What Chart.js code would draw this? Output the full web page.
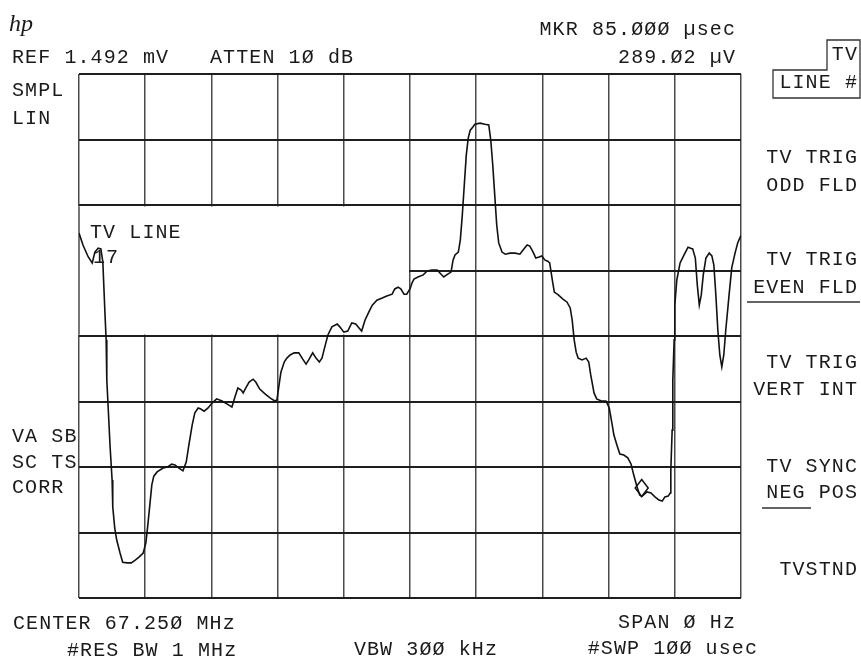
<!DOCTYPE html>
<html>
<head>
<meta charset="utf-8">
<script src="https://cdn.jsdelivr.net/npm/chart.js@4"></script>
<style>
  body { margin: 0; background: #fff; }
  #traceCanvas { display: block; }
</style>
</head>
<body>
<canvas id="traceCanvas" width="861" height="663"></canvas>
<script>
// Sweep time (usec) and level (uV)
const traceTime = [0, 0.6, 1.4, 2.0, 2.4, 2.9, 3.3, 3.6, 3.9, 4.1, 4.2, 4.5, 4.7, 5.0, 5.1, 5.4, 5.7, 6.2, 6.6, 7.3,
  7.9, 8.5, 9.1, 9.7, 10.1, 10.4, 10.7, 11.0, 11.3, 11.8, 12.7, 13.4, 14.0, 14.5, 15.1, 15.7, 16.2, 16.6, 17.1, 17.5,
  18.0, 18.4, 18.9, 19.5, 20.1, 20.8, 21.6, 22.4, 23.1, 23.6, 24.0, 24.5, 24.8, 25.2, 25.7, 26.3, 26.7, 27.3, 28.1, 28.9,
  29.6, 29.9, 30.2, 30.5, 31.0, 31.4, 31.9, 32.5, 33.2, 33.8, 34.3, 34.7, 35.3, 35.8, 36.3, 36.7, 37.2, 37.6, 38.2, 39.0,
  39.4, 40.0, 40.6, 41.2, 41.8, 42.3, 42.7, 43.2, 43.7, 44.3, 45.0, 45.8, 46.5, 47.3, 47.7, 48.2, 48.6, 49.1, 49.5, 50.0,
  50.3, 50.6, 51.2, 52.0, 52.6, 53.3, 54.1, 54.7, 55.1, 55.7, 56.2, 56.5, 56.8, 57.3, 57.6, 57.9, 58.2, 58.5, 58.8, 59.1,
  59.5, 59.8, 60.6, 61.3, 61.9, 62.2, 62.5, 62.8, 63.1, 63.4, 63.9, 64.4, 65.1, 65.9, 66.6, 67.2, 67.7, 68.1, 68.6, 69.0,
  69.5, 69.9, 70.4, 70.8, 71.1, 71.5, 71.8, 72.4, 73.1, 73.7, 74.2, 74.5, 74.8, 75.1, 75.4, 76.0, 76.6, 77.0, 77.3, 77.8,
  78.2, 78.9, 79.6, 80.1, 80.5, 80.8, 81.3, 81.7, 82.3, 82.9, 83.4, 83.8, 84.3, 84.7, 85.0, 85.8, 86.4, 87.0, 87.6, 88.1,
  88.5, 89.0, 89.3, 89.4, 89.6, 89.7, 89.9, 90.0, 90.3, 90.8, 91.4, 92.0, 92.4, 92.7, 93.1, 93.4, 93.7, 94.0, 94.3, 94.7,
  95.2, 95.6, 95.9, 96.2, 96.5, 96.8, 97.1, 97.4, 97.7, 98.2, 98.6, 99.1, 99.5, 100];
const traceLevel = [1039, 1005, 971, 954, 985, 996, 994, 957, 820, 735, 621, 507, 430, 336, 259, 199, 165, 128, 102, 100,
  100, 108, 117, 128, 157, 208, 265, 322, 347, 359, 370, 373, 381, 379, 370, 362, 387, 436, 493, 527,
  541, 538, 532, 541, 555, 567, 561, 552, 544, 575, 598, 592, 584, 598, 615, 623, 615, 595, 581, 569,
  561, 564, 604, 643, 672, 683, 692, 698, 698, 680, 666, 678, 698, 683, 672, 683, 720, 749, 772, 780,
  772, 757, 760, 783, 780, 769, 760, 791, 811, 834, 848, 854, 860, 865, 880, 885, 880, 865, 865, 880,
  897, 908, 914, 920, 931, 934, 934, 922, 914, 922, 928, 962, 977, 985, 1019, 1090, 1176, 1261, 1310, 1332,
  1341, 1349, 1352, 1349, 1347, 1304, 1233, 1147, 1062, 1011, 985, 979, 982, 982, 979, 994, 1005, 1002, 985, 968,
  971, 974, 962, 959, 954, 905, 871, 863, 851, 843, 826, 791, 735, 700, 683, 678, 683, 672, 635, 584,
  567, 561, 561, 541, 498, 464, 433, 410, 407, 399, 381, 350, 316, 293, 289, 302, 299, 288, 279, 276,
  288, 290, 299, 364, 478, 621, 735, 834, 905, 954, 977, 999, 996, 994, 968, 891, 834, 863, 920, 968,
  982, 974, 948, 863, 763, 692, 658, 692, 763, 863, 940, 982, 1011, 1033];

// Marker readout
const markerTime = 85.0;
const markerLevel = 289.02;

// Graticule: 10 x 8 divisions, REF 1.492 mV at top, linear
const xTicks = [0, 10, 20, 30, 40, 50, 60, 70, 80, 90, 100];
const yTicks = [0, 186.5, 373, 559.5, 746, 932.5, 1119, 1305.5, 1492];

const screenFont = '20px "Liberation Mono", "DejaVu Sans Mono", monospace';
const vGridColor = '#4a4a4a';

// Plugin: blank out the graticule behind the TV LINE annotation
const blankBox = {
    id: 'blankBox',
    beforeDatasetsDraw(chart) {
        const c = chart.ctx;
        const x = chart.scales.x, y = chart.scales.y;
        const x0 = x.getPixelForValue(0);
        const right = x.getPixelForValue(50) - 1;
        const top = y.getPixelForValue(yTicks[6]) + 1.5;
        const bottom = y.getPixelForValue(yTicks[4]) - 1.5;
        c.save();
        c.fillStyle = '#fff';
        c.fillRect(x0 - 2, top, right - x0 + 2, bottom - top);
        // put the left edge of the graticule back
        c.strokeStyle = vGridColor;
        c.lineWidth = 1.5;
        c.beginPath();
        c.moveTo(x0, top);
        c.lineTo(x0, bottom);
        c.stroke();
        c.restore();
    }
};

// Plugin: marker diamond + all the screen annotations
const screenText = {
    id: 'screenText',
    afterDraw(chart) {
        const c = chart.ctx;
        const x = chart.scales.x, y = chart.scales.y;
        c.save();

        // marker diamond sitting on the trace
        const mx = x.getPixelForValue(markerTime);
        const my = y.getPixelForValue(markerLevel);
        c.strokeStyle = '#111';
        c.lineWidth = 1.5;
        c.beginPath();
        c.moveTo(mx, my);
        c.lineTo(mx + 6.5, my - 8.5);
        c.lineTo(mx, my - 17);
        c.lineTo(mx - 6.5, my - 8.5);
        c.closePath();
        c.stroke();

        c.fillStyle = '#1a1a1a';
        c.textBaseline = 'middle';
        c.font = 'italic 24px "Liberation Serif", serif';
        c.textAlign = 'left';
        c.fillText('hp', 9, 25);

        c.font = screenFont;
        c.letterSpacing = '1.1px';
        const left = (t, px, py) => { c.textAlign = 'left'; c.fillText(t, px, py); };
        const right = (t, px, py) => { c.textAlign = 'right'; c.fillText(t, px, py); };

        // header
        left('REF 1.492 mV', 12, 58);
        left('ATTEN 1Ø dB', 210, 58);
        right('MKR 85.ØØØ µsec', 736, 30);
        right('289.Ø2 µV', 736, 58);

        // left side annotations
        left('SMPL', 12, 91);
        left('LIN', 12, 119);
        left('VA SB', 12, 437);
        left('SC TS', 12, 463);
        left('CORR', 12, 488);

        // annotation inside graticule
        left('TV LINE', 90, 233);
        left('17', 93, 258);

        // softkey menu
        right('TV', 858, 55);
        right('LINE #', 858, 83);
        right('TV TRIG', 858, 158);
        right('ODD FLD', 858, 186);
        right('TV TRIG', 858, 260);
        right('EVEN FLD', 858, 288);
        right('TV TRIG', 858, 363);
        right('VERT INT', 858, 390);
        right('TV SYNC', 858, 467);
        right('NEG POS', 858, 493);
        right('TVSTND', 858, 570);

        // footer
        left('CENTER 67.25Ø MHz', 13, 624);
        left('#RES BW 1 MHz', 67, 651);
        right('VBW 3ØØ kHz', 498, 650);
        right('SPAN Ø Hz', 736, 623);
        right('#SWP 1ØØ usec', 758, 649);

        // active softkey box and underlines
        c.strokeStyle = '#333';
        c.lineWidth = 1.3;
        c.beginPath();
        c.moveTo(827, 40);
        c.lineTo(860, 40);
        c.lineTo(860, 98);
        c.lineTo(773, 98);
        c.lineTo(773, 70);
        c.lineTo(827, 70);
        c.closePath();
        c.stroke();
        c.lineWidth = 1.6;
        c.beginPath();
        c.moveTo(747, 302); c.lineTo(860, 302);
        c.moveTo(762, 508); c.lineTo(811, 508);
        c.stroke();
        c.restore();
    }
};

const ctx = document.getElementById('traceCanvas').getContext('2d');

let myChart = new Chart(ctx, {
    type: 'line',
    data: {
        datasets: [{
            label: 'Trace A',
            data: traceTime.map((t, i) => ({ x: t, y: traceLevel[i] })),
            borderColor: '#111',
            borderWidth: 1.6,
            pointRadius: 0,
            tension: 0,
            fill: false
        }]
    },
    options: {
        responsive: false,
        animation: false,
        devicePixelRatio: 1,
        layout: { padding: { left: 79, right: 120, top: 74, bottom: 65 } },
        plugins: {
            legend: { display: false },
            tooltip: { enabled: false }
        },
        scales: {
            x: {
                type: 'linear',
                min: 0,
                max: 100,
                afterBuildTicks: scale => { scale.ticks = xTicks.map(v => ({ value: v })); },
                ticks: { display: false },
                grid: { color: vGridColor, lineWidth: 1.5, drawTicks: false },
                border: { display: false }
            },
            y: {
                type: 'linear',
                min: 0,
                max: 1492,
                afterBuildTicks: scale => { scale.ticks = yTicks.map(v => ({ value: v })); },
                ticks: { display: false },
                grid: { color: '#1e1e1e', lineWidth: 2, drawTicks: false },
                border: { display: false }
            }
        }
    },
    plugins: [blankBox, screenText]
});
</script>
</body>
</html>
